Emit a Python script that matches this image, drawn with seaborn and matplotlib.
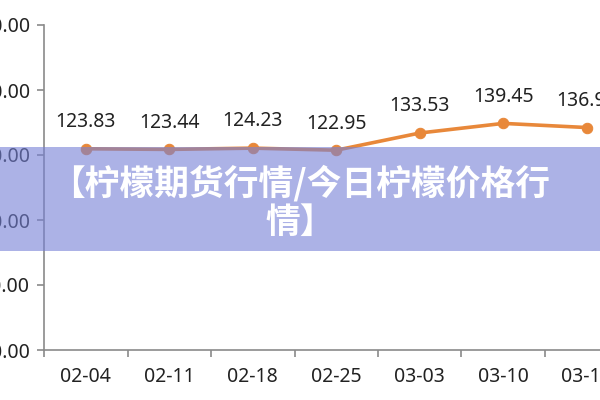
import matplotlib.pyplot as plt
import matplotlib.patches as mpatches
import pandas as pd
import seaborn as sns

# lemon futures price, weekly
dates = ["02-04", "02-11", "02-18", "02-25", "03-03", "03-10", "03-17"]
prices = [123.83, 123.44, 124.23, 122.95, 133.53, 139.45, 136.90]
y_ticks = [0, 40, 80, 120, 160, 200]
title = "【柠檬期货行情/今日柠檬价格行\n情】"

sns.set_theme(style="white")
plt.rcParams["font.family"] = ["Noto Sans", "DejaVu Sans"]

df = pd.DataFrame({"date": dates, "price": prices})
df["pos"] = range(len(df))

fig = plt.figure(figsize=(6, 4), dpi=100)
# axes run past the left/right edge, like the cropped screenshot
ax = fig.add_axes([44 / 600, 50 / 400, 584.5 / 600, 325 / 400])

line_color = "#E8883A"
sns.lineplot(data=df, x="pos", y="price", ax=ax, color=line_color,
             linewidth=2.6, marker="o", markersize=7.5,
             markeredgecolor=line_color, clip_on=False)

for x, y in zip(df["pos"], df["price"]):
    ax.annotate(f"{y:.2f}", (x, y), xytext=(0, 12), textcoords="offset points",
                ha="center", va="bottom", fontsize=14, color="#222222")

ax.set_xlim(-0.5, len(dates) - 0.5)
ax.set_ylim(0, 200)
ax.set_yticks(y_ticks)
ax.set_yticklabels([f"{v:.2f}" for v in y_ticks])
ax.set_xticks(df["pos"])
ax.set_xticklabels(dates)
ax.set_xticks([p - 0.5 for p in range(len(dates) + 1)], minor=True)
ax.set_xlabel("")
ax.set_ylabel("")

axis_color = "#8a8a8a"
for side in ["top", "right"]:
    ax.spines[side].set_visible(False)
for side in ["left", "bottom"]:
    ax.spines[side].set_color(axis_color)
    ax.spines[side].set_linewidth(1.2)
ax.tick_params(axis="x", which="major", length=0, pad=12, labelsize=14,
               labelcolor="#222222")
ax.tick_params(axis="x", which="minor", length=5, width=1.2, color=axis_color,
               bottom=True)
ax.tick_params(axis="y", length=5, width=1.2, color=axis_color, left=True,
               pad=5, labelsize=14, labelcolor="#222222")
ax.grid(False)

# translucent title banner across the figure
banner = mpatches.Rectangle((0, (400 - 251) / 400), 1, 104 / 400,
                            transform=fig.transFigure, facecolor="#7580D6",
                            alpha=0.6, edgecolor="none", zorder=10)
fig.patches.append(banner)
fig.text(0.5, (400 - 202) / 400, title,
         ha="center", va="center", fontsize=25, fontweight="black",
         color="white", linespacing=1.12, zorder=11,
         family=["Noto Sans CJK SC", "DejaVu Sans"])

fig.savefig("out.png", dpi=100)
